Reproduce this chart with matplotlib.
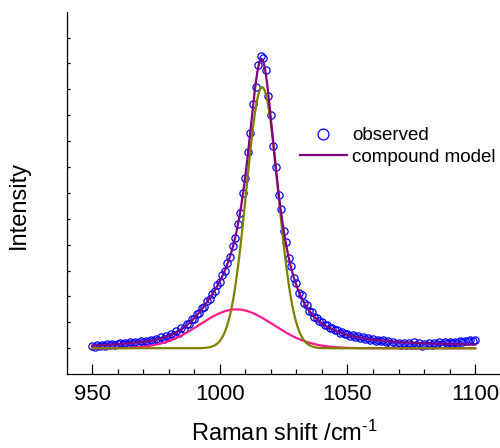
import numpy as np
import matplotlib.pyplot as plt
from matplotlib.ticker import MultipleLocator

plt.rcParams['font.family'] = ['Liberation Sans', 'DejaVu Sans']
plt.rcParams['mathtext.fontset'] = 'custom'
plt.rcParams['mathtext.rm'] = 'Liberation Sans'
plt.rcParams['mathtext.it'] = 'Liberation Sans:italic'

# measured spectrum, one point per cm-1 from 950 to 1100
shift = np.arange(950, 1101)
observed = [
    80, 60, 120, 90, 140, 100, 150, 120, 170, 130,
    160, 190, 150, 200, 170, 230, 190, 250, 210, 260,
    230, 290, 250, 330, 290, 360, 320, 410, 370, 470,
    440, 530, 500, 640, 600, 760, 750, 910, 920, 1100,
    1120, 1300, 1340, 1540, 1590, 1800, 1870, 2080, 2180, 2420,
    2520, 2790, 2950, 3260, 3480, 3880, 4180, 4720, 5150, 5900,
    6480, 7460, 8200, 9300, 9950, 10800, 11140, 11050, 10600, 9600,
    8900, 7700, 6900, 5850, 5300, 4450, 4050, 3420, 3120, 2660,
    2480, 2120, 2010, 1720, 1650, 1420, 1390, 1190, 1170, 1020,
    1010, 880, 870, 760, 780, 680, 700, 600, 620, 540,
    560, 480, 510, 430, 470, 380, 420, 360, 390, 320,
    350, 290, 320, 270, 300, 220, 260, 180, 230, 150,
    210, 120, 200, 110, 190, 140, 220, 130, 200, 90,
    170, 130, 200, 140, 210, 160, 220, 180, 230, 190,
    240, 200, 250, 210, 260, 230, 290, 260, 320, 280,
    330,
]

# compound model: lorentzian main band + gaussian shoulder + linear baseline
main_center, main_gamma, main_height = 1016.4, 7.2, 10800
shoulder_center, shoulder_fwhm, shoulder_height = 1001.0, 22.0, 800
baseline_ends = [-25, 65]   # at 950 and 1100

# fitted components (gaussian): olive band, pink band
comp_center = [1016.6, 1006.5]
comp_fwhm = [14.6, 34.0]
comp_height = [9940, 1480]
comp_color = ['#808000', '#ff1a8c']


def gauss(x, c, f, h):
    return h * np.exp(-4 * np.log(2) * ((x - c) / f) ** 2)


def lorentz(x, c, g, h):
    return h / (1 + ((x - c) / g) ** 2)


xx = np.linspace(950, 1100, 800)
base = np.interp(xx, [950, 1100], baseline_ends)
model = (lorentz(xx, main_center, main_gamma, main_height)
         + gauss(xx, shoulder_center, shoulder_fwhm, shoulder_height) + base)

fig = plt.figure(figsize=(5, 4.48), dpi=100)
ax = fig.add_axes([0.134, 0.165, 0.866, 0.808])

ax.plot(shift, observed, 'o', ms=5.2, mfc='none', mec='#0000ff', mew=0.9,
        label='observed', zorder=2)
for c, f, h, col in zip(comp_center[::-1], comp_fwhm[::-1], comp_height[::-1], comp_color[::-1]):
    ax.plot(xx, gauss(xx, c, f, h), color=col, lw=1.6, zorder=3)
ax.plot(xx, model, color='#800080', lw=1.6, label='compound model', zorder=4)

ax.set_xlim(940.2, 1109.7)
ax.set_ylim(-983, 12800)
ax.xaxis.set_major_locator(MultipleLocator(50))
ax.xaxis.set_minor_locator(MultipleLocator(10))
ax.yaxis.set_major_locator(MultipleLocator(986))
ax.tick_params(axis='x', which='major', direction='in', length=7, width=0.9,
               labelsize=16, pad=7)
ax.tick_params(axis='x', which='minor', direction='in', length=3.6, width=0.9)
ax.tick_params(axis='y', direction='in', length=2, width=0.9, labelleft=False)
for s in ['top', 'right']:
    ax.spines[s].set_visible(False)
for s in ['left', 'bottom']:
    ax.spines[s].set_linewidth(0.9)

ax.set_xlabel('Raman shift /cm$^{\\text{-}1}$', fontsize=17)
ax.xaxis.set_label_coords(0.503, -0.13)
ax.set_ylabel('Intensity', fontsize=17)
ax.yaxis.set_label_coords(-0.085, 0.467)

ax.legend(loc='upper left', bbox_to_anchor=(300 / 500, 1 - 127 / 448),
          bbox_transform=fig.transFigure, frameon=False, fontsize=13.5,
          handlelength=2.5, handletextpad=0.3, labelspacing=0.25,
          borderpad=0, borderaxespad=0, markerscale=1.5)

fig.savefig('out.png', dpi=100)
